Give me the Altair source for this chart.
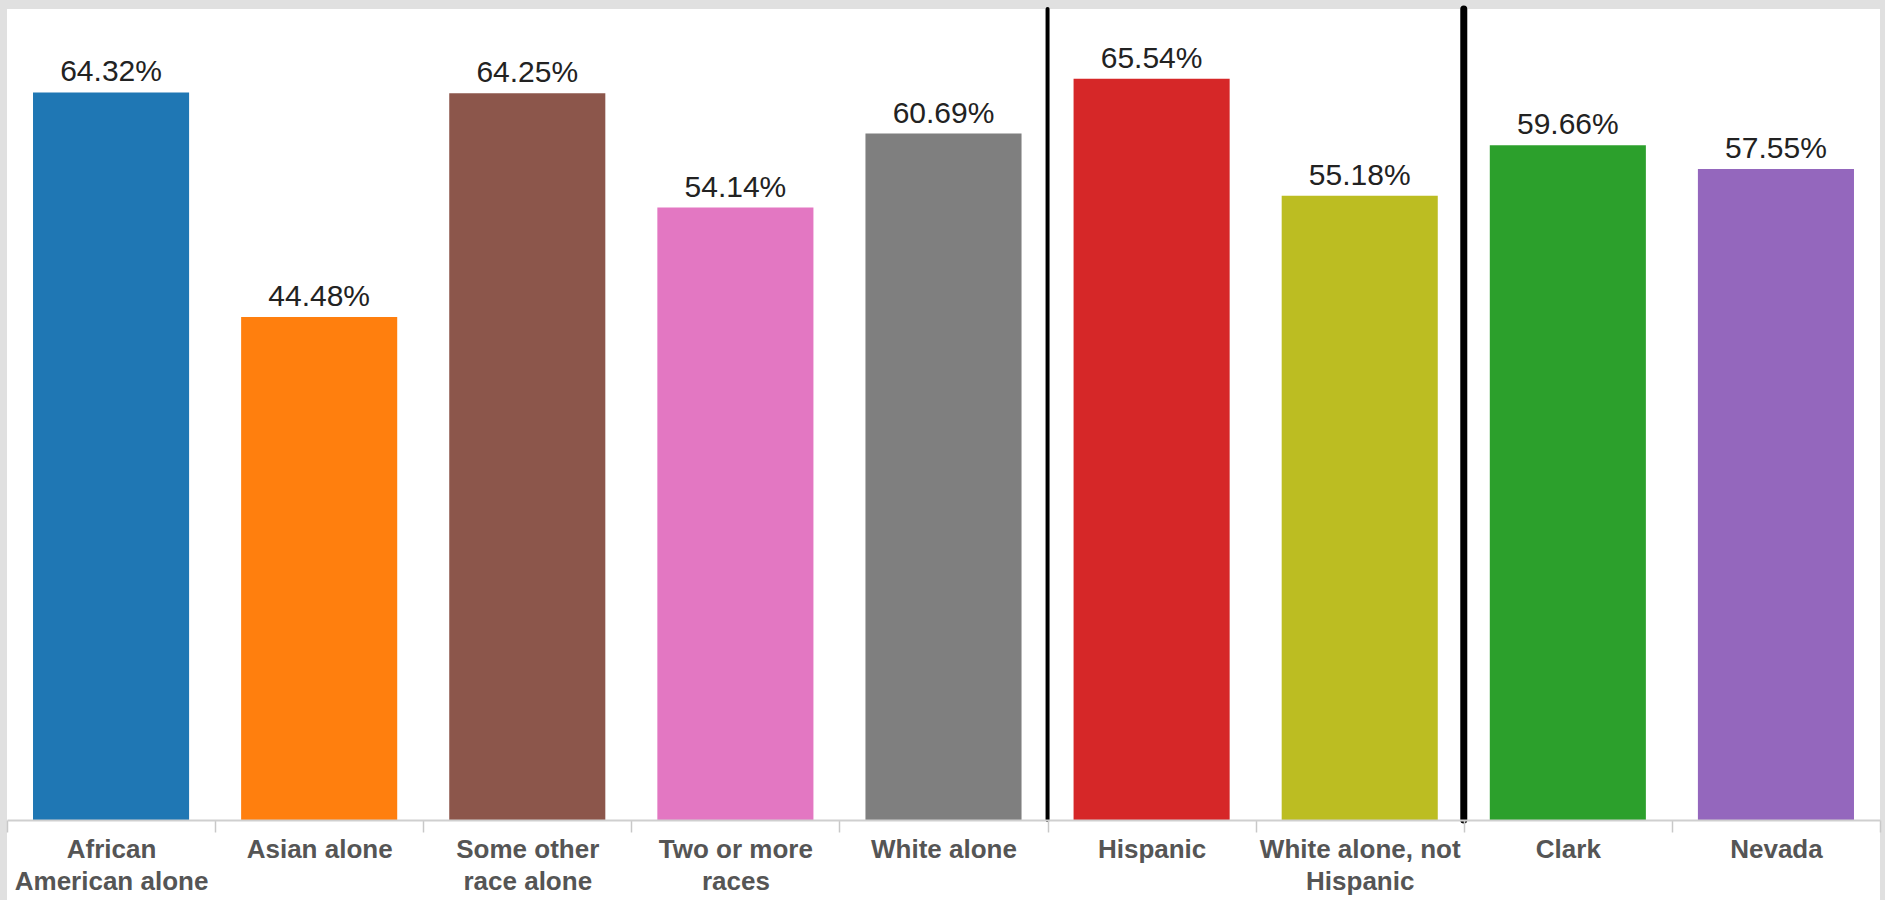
import altair as alt
import pandas as pd

categories = ["African|American alone", "Asian alone", "Some other|race alone",
              "Two or more|races", "White alone", "Hispanic",
              "White alone, not|Hispanic", "Clark", "Nevada"]
values = [64.32, 44.48, 64.25, 54.14, 60.69, 65.54, 55.18, 59.66, 57.55]
colors = ["#1f77b4", "#ff7f0e", "#8c564b", "#e377c2", "#7f7f7f",
          "#d62728", "#bcbd22", "#2ca02c", "#9467bd"]

sep_cats = ["Hispanic", "Clark"]
sep_widths = [4, 7]

W, H = 1873, 811

df = pd.DataFrame({"cat": categories, "value": values, "color": colors})
sep = pd.DataFrame({"cat": sep_cats, "w": sep_widths})
bg = pd.DataFrame({"k": [0]})

xscale = alt.Scale(domain=categories, paddingInner=0, paddingOuter=0)
xaxis = alt.Axis(title=None, labelAngle=0, labelExpr="split(datum.label, '|')",
                 labelFont="Liberation Sans", labelFontSize=26, labelFontWeight="bold",
                 labelColor="#555555", labelLineHeight=32, labelBaseline="top",
                 labelLimit=400, labelPadding=4, tickBand="extent", tickSize=12,
                 tickColor="#c8c8c8", tickWidth=1.5, domainColor="#cfcfcf",
                 domainWidth=2, zindex=1)

back = alt.Chart(bg).mark_rect(color="white").encode(
    x=alt.value(0), x2=alt.value(W), y=alt.value(0), y2=alt.value(H + 100))

base = alt.Chart(df)
bars = base.mark_bar(width=alt.RelativeBandSize(0.75)).encode(
    x=alt.X("cat:N", scale=xscale, axis=xaxis),
    y=alt.Y("value:Q", scale=alt.Scale(domain=[0, 71.7], nice=False), axis=None),
    color=alt.Color("color:N", scale=None),
)
texts = base.transform_calculate(
    lbl="format(datum.value, '.2f') + '%'"
).mark_text(baseline="bottom", dy=-5, font="Liberation Sans", fontSize=30,
            color="#222222").encode(
    x=alt.X("cat:N", scale=xscale, axis=xaxis),
    y=alt.Y("value:Q"),
    text="lbl:N",
)
rules = alt.Chart(sep).mark_rule(color="black", strokeCap="round").encode(
    x=alt.X("cat:N", scale=xscale, axis=xaxis, bandPosition=0),
    y=alt.value(0), y2=alt.value(H),
    strokeWidth=alt.StrokeWidth("w:Q", scale=None),
)

chart = alt.layer(back, bars, texts, rules).properties(
    width=W, height=H, background="#e0e0e0",
    padding={"left": 7, "top": 9, "right": 5, "bottom": 80},
    autosize=alt.AutoSizeParams(type="none"),
).configure_view(stroke=None)

chart.save("out.html", embed_options={"renderer": "svg", "actions": False})
